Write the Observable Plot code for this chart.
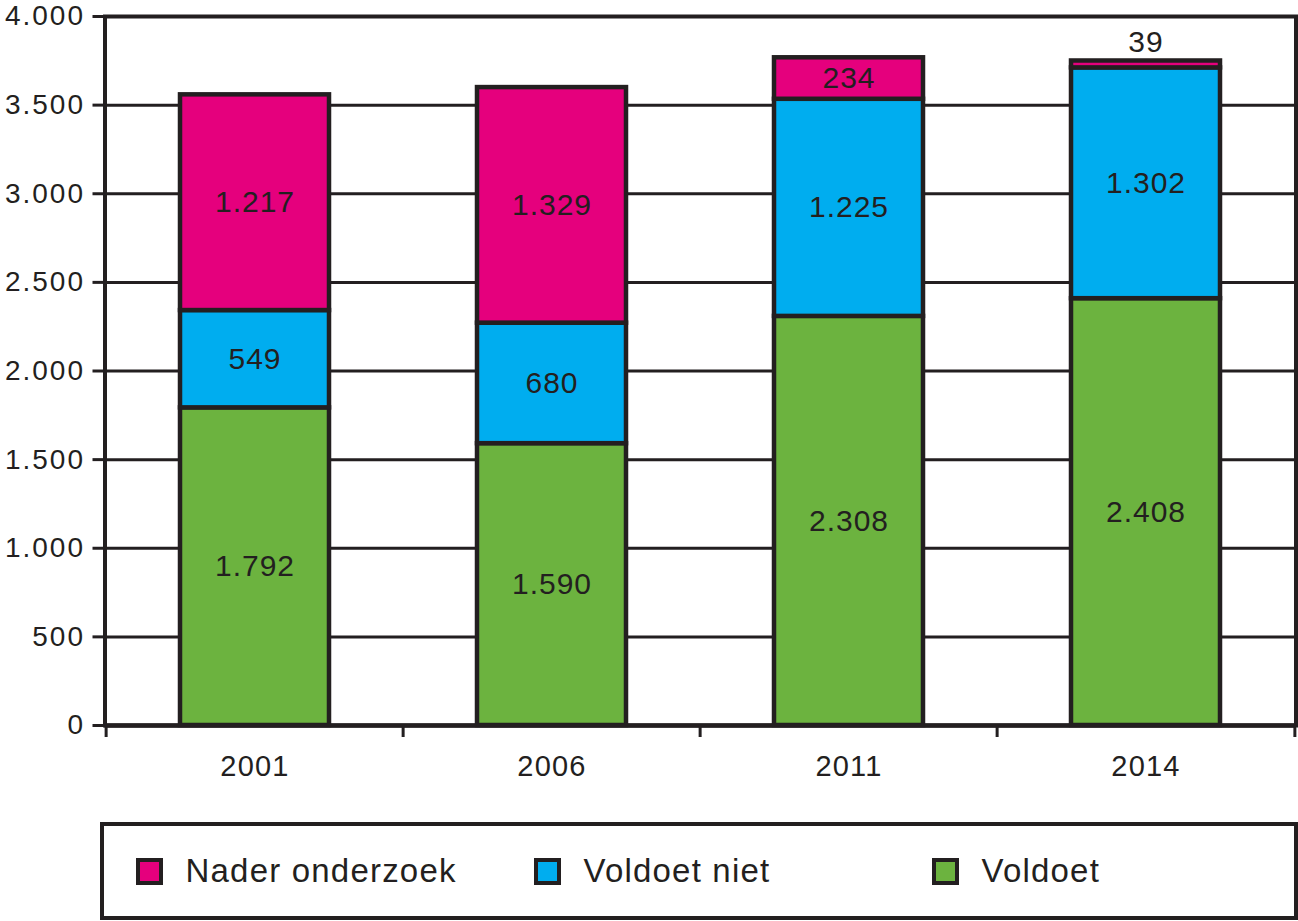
<!DOCTYPE html>
<html>
<head>
<meta charset="utf-8">
<script src="https://cdn.jsdelivr.net/npm/d3@7"></script>
<script src="https://cdn.jsdelivr.net/npm/@observablehq/plot@0.6"></script>
<style>
  html, body { margin: 0; padding: 0; background: #fff; }
  body { width: 1298px; height: 921px; overflow: hidden; font-family: "Liberation Sans", Arial, sans-serif; color: #231f20; }
  #chart svg { display: block; }
  .legend {
    box-sizing: border-box;
    margin: 22px 0 0 100px;
    width: 1198px;
    height: 98px;
    border: 4.5px solid #231f20;
    display: flex;
    align-items: center;
    padding-left: 31.5px;
    overflow: hidden;
  }
  .item { flex: 0 0 398px; display: flex; align-items: center; font-size: 33px; letter-spacing: 1.2px; white-space: nowrap; }
  .sw { box-sizing: border-box; flex: 0 0 27px; width: 27px; height: 27px; border: 4.5px solid #231f20; margin-right: 23px; }
</style>
</head>
<body>
<div id="chart"></div>
<div class="legend" id="legend"></div>
<script>
const years = ["2001", "2006", "2011", "2014"];
const categories = ["Voldoet", "Voldoet niet", "Nader onderzoek"];
const colors = ["#6cb33f", "#00adef", "#e5007d"];
const voldoet = [1792, 1590, 2308, 2408];
const voldoetNiet = [549, 680, 1225, 1302];
const naderOnderzoek = [1217, 1329, 234, 39];
const yTicks = [0, 500, 1000, 1500, 2000, 2500, 3000, 3500, 4000];

const series = [voldoet, voldoetNiet, naderOnderzoek];
const data = [];
years.forEach((yr, i) => {
  categories.forEach((c, j) => data.push({year: yr, cat: c, value: series[j][i]}));
});

const nl = d3.formatLocale({decimal: ",", thousands: ".", grouping: [3], currency: ["€", ""]});
const fmt = nl.format(",.0f");
const ink = "#231f20";
const W = 1298, ML = 104.5, MR = 2.5;
const step = (W - ML - MR) / years.length;

const plot = Plot.plot({
  width: W,
  height: 800,
  marginLeft: ML,
  marginRight: MR,
  marginTop: 16,
  marginBottom: 75,
  style: {fontFamily: '"Liberation Sans", Arial, sans-serif', color: ink, background: "#fff"},
  x: {domain: years, paddingInner: 0.5, paddingOuter: 0.25, label: null},
  y: {domain: [0, 4000], label: null},
  color: {domain: categories, range: colors},
  marks: [
    Plot.ruleY(yTicks.slice(1, -1), {stroke: ink, strokeWidth: 3}),
    Plot.barY(data, {x: "year", y: "value", z: "cat", fill: "cat", stroke: ink, strokeWidth: 4.5}),
    Plot.frame({stroke: ink, strokeWidth: 4}),
    Plot.ruleY([0], {stroke: ink, strokeWidth: 4.5}),
    Plot.axisY({ticks: yTicks, tickSize: 12, tickPadding: 8, tickFormat: fmt, fontSize: 28, stroke: ink, strokeWidth: 3, fill: ink, label: null}),
    Plot.axisX({ticks: years, tickSize: 12, dx: -step / 2, text: null, stroke: ink, strokeWidth: 3, label: null}),
    Plot.axisX({ticks: [years[years.length - 1]], tickSize: 12, dx: step / 2, text: null, stroke: ink, strokeWidth: 3, label: null}),
    Plot.axisX({ticks: years, tickSize: 0, tickPadding: 30, fontSize: 29, fill: ink, label: null}),
    Plot.text(data, Plot.stackY({x: "year", y: "value", z: "cat", text: d => d.value >= 100 ? fmt(d.value) : "", fontSize: 30, fill: ink})),
    Plot.text(data, Plot.stackY2({x: "year", y: "value", z: "cat", text: d => d.value < 100 ? fmt(d.value) : "", fontSize: 30, fill: ink, dy: -19}))
  ]
});
document.getElementById("chart").appendChild(plot);

const svg = d3.select(plot);
svg.selectAll('g[aria-label="y-axis tick label"] text').attr("letter-spacing", "2px");
svg.selectAll('g[aria-label="x-axis tick label"] text').attr("letter-spacing", "1.2px");
svg.selectAll('g[aria-label="text"] text').attr("letter-spacing", "1px");

const legendOrder = ["Nader onderzoek", "Voldoet niet", "Voldoet"];
const legend = d3.select("#legend");
legendOrder.forEach(c => {
  const it = legend.append("div").attr("class", "item");
  it.append("div").attr("class", "sw").style("background", colors[categories.indexOf(c)]);
  it.append("span").text(c);
});
</script>
</body>
</html>
